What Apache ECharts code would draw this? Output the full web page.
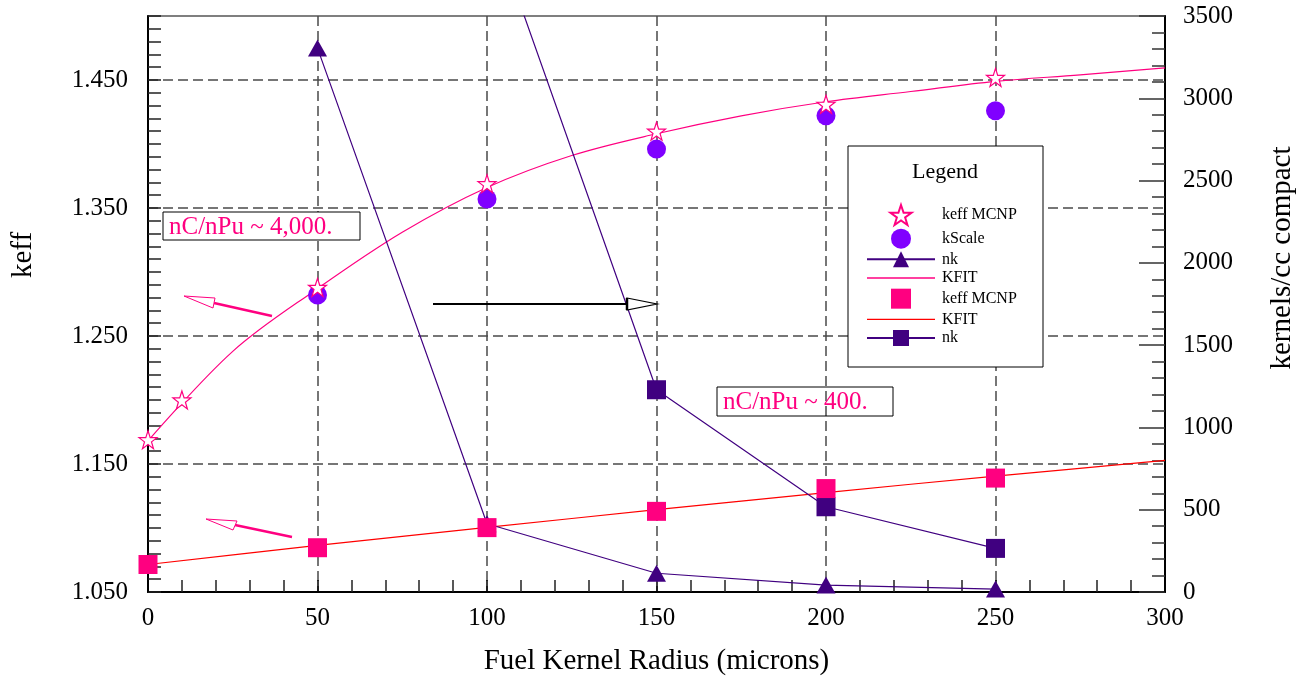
<!DOCTYPE html>
<html>
<head>
<meta charset="utf-8">
<script src="https://cdn.jsdelivr.net/npm/echarts@6/dist/echarts.min.js"></script>
<style>
html,body{margin:0;padding:0;background:#fff;}
#chart{width:1298px;height:681px;}
</style>
</head>
<body>
<div id="chart"></div>
<script>
// ---- data ----
const xTicks = [0, 50, 100, 150, 200, 250, 300];
const starX = [0, 10, 50, 100, 150, 200, 250];
const starKeff = [1.169, 1.200, 1.288, 1.369, 1.410, 1.431, 1.452];
const kScaleX = [50, 100, 150, 200, 250];
const kScaleVal = [1.282, 1.357, 1.396, 1.422, 1.426];
const nkTriX = [50, 100, 150, 200, 250];
const nkTriVal = [3305, 415, 114, 42, 18];
const kfitPinkX = [0, 25, 50, 75, 100, 125, 150, 175, 200, 225, 250, 275, 300];
const kfitPinkVal = [1.168, 1.238, 1.287, 1.331, 1.366, 1.391, 1.408, 1.422, 1.433, 1.441, 1.449, 1.454, 1.4595];
const sqX = [0, 50, 100, 150, 200, 250];
const sqKeff = [1.0715, 1.0846, 1.1003, 1.1130, 1.1308, 1.1390];
const kfitRedX = [0, 50, 100, 150, 200, 250, 300];
const kfitRedVal = [1.0715, 1.0864, 1.1005, 1.1143, 1.1277, 1.1405, 1.1528];
const nkSqX = [100, 150, 200, 250];
const nkSqVal = [4140, 1229, 518, 265];
const legendNames = ['keff MCNP', 'kScale', 'nk', 'KFIT', 'keff MCNP ', 'KFIT ', 'nk '];

const zip = (xs, ys) => xs.map((x, i) => [x, ys[i]]);

const FONT = 'Liberation Serif';
const PINK = '#FF0080';
const PURPLE = '#8000FF';
const DPURPLE = '#400080';
const RED = '#FF0000';
const STAR = 'path://M50,0 L61.8,35.1 L98.1,35.1 L68.8,56.7 L79.4,91 L50,70 L20.6,91 L31.2,56.7 L1.9,35.1 L38.2,35.1 Z';
const SQUARE = 'path://M0,0 H10 V10 H0 Z';
const THINLINE = 'path://M0,0 H68 V1.4 H0 Z';

const chart = echarts.init(document.getElementById('chart'), null, {renderer: 'canvas'});

const dash = {color: '#4a4a4a', width: 1.5, type: [10, 5]};

const option = {
  animation: false,
  backgroundColor: '#fff',
  grid: {left: 148, right: 133, top: 16, bottom: 84, show: true, borderColor: '#555', borderWidth: 1.5, backgroundColor: 'transparent'},
  xAxis: {
    type: 'value', min: 0, max: 300, interval: 50,
    name: 'Fuel Kernel Radius (microns)', nameLocation: 'middle', nameGap: 55,
    nameTextStyle: {fontFamily: FONT, fontSize: 29, color: '#000'},
    axisLine: {lineStyle: {color: '#000', width: 2}},
    axisTick: {inside: true, length: 12, lineStyle: {color: '#000', width: 1.5}},
    minorTick: {show: true, splitNumber: 5, length: 12, lineStyle: {color: '#222', width: 1.5}},
    axisLabel: {fontFamily: FONT, fontSize: 25, color: '#000', margin: 14},
    splitLine: {show: true, showMinLine: false, showMaxLine: false, lineStyle: dash}
  },
  yAxis: [
    {
      type: 'value', position: 'left', min: 1.05, max: 1.5, interval: 0.1,
      axisLine: {show: true, lineStyle: {color: '#000', width: 2}},
      axisTick: {show: false},
      axisLabel: {fontFamily: FONT, fontSize: 25, color: '#000', margin: 20, showMaxLabel: false,
        formatter: v => v.toFixed(3)},
      splitLine: {show: true, showMinLine: false, showMaxLine: false, lineStyle: dash}
    },
    {
      type: 'value', position: 'right', min: 0, max: 3500, interval: 500,
      axisLine: {show: true, lineStyle: {color: '#000', width: 2}},
      axisTick: {show: true, inside: true, length: 26, lineStyle: {color: '#333', width: 1.5}},
      minorTick: {show: true, splitNumber: 5, length: 13, lineStyle: {color: '#333', width: 1.5}},
      axisLabel: {fontFamily: FONT, fontSize: 25, color: '#000', margin: 18, formatter: v => String(Math.round(v))},
      splitLine: {show: false}
    },
    {
      type: 'value', position: 'left', min: 1.05, max: 1.5, interval: 0.01,
      axisLine: {show: false},
      axisTick: {show: true, inside: true, length: 13, lineStyle: {color: '#222', width: 1.5}},
      axisLabel: {show: false},
      splitLine: {show: false}
    }
  ],
  legend: {
    orient: 'vertical', left: 861, top: 199,
    itemWidth: 68, itemHeight: 20, itemGap: 2.67,
    textStyle: {fontFamily: FONT, fontSize: 16, color: '#000', padding: [0, 0, 0, 2]},
    selectedMode: false,
    data: [
      {name: 'keff MCNP'},
      {name: 'kScale'},
      {name: 'nk'},
      {name: 'KFIT', icon: THINLINE},
      {name: 'keff MCNP ', icon: SQUARE},
      {name: 'KFIT ', icon: THINLINE},
      {name: 'nk '}
    ]
  },
  series: [
    {
      name: 'KFIT', type: 'line', yAxisIndex: 0, data: zip(kfitPinkX, kfitPinkVal),
      smooth: 0.35, symbol: 'none', color: PINK, lineStyle: {color: PINK, width: 1.2}, z: 2
    },
    {
      name: 'KFIT ', type: 'line', yAxisIndex: 0, data: zip(kfitRedX, kfitRedVal),
      smooth: 0.3, symbol: 'none', color: RED, lineStyle: {color: RED, width: 1.2}, z: 2
    },
    {
      name: 'nk', type: 'line', yAxisIndex: 1, data: zip(nkTriX, nkTriVal),
      symbol: 'triangle', symbolSize: [19, 17], color: DPURPLE,
      lineStyle: {color: DPURPLE, width: 1.2}, itemStyle: {color: DPURPLE, opacity: 1}, z: 3
    },
    {
      name: 'nk ', type: 'line', yAxisIndex: 1, data: zip(nkSqX, nkSqVal),
      symbol: 'rect', symbolSize: 19, color: DPURPLE, clip: true,
      lineStyle: {color: DPURPLE, width: 1.2}, itemStyle: {color: DPURPLE, opacity: 1}, z: 3
    },
    {
      name: 'kScale', type: 'scatter', yAxisIndex: 0, data: zip(kScaleX, kScaleVal),
      symbol: 'circle', symbolSize: 19, color: PURPLE, itemStyle: {color: PURPLE, opacity: 1}, z: 4
    },
    {
      name: 'keff MCNP ', type: 'scatter', yAxisIndex: 0, data: zip(sqX, sqKeff),
      symbol: 'rect', symbolSize: 19, color: PINK, itemStyle: {color: PINK, opacity: 1}, z: 5
    },
    {
      name: 'keff MCNP', type: 'scatter', yAxisIndex: 0, data: zip(starX, starKeff),
      symbol: STAR, symbolSize: 18, color: '#fff',
      itemStyle: {color: '#fff', borderColor: PINK, borderWidth: 1.2, opacity: 1}, z: 6
    }
  ],
  graphic: [
    // legend frame + title
    {type: 'rect', z: 3, shape: {x: 848, y: 146, width: 195, height: 221},
      style: {fill: '#fff', stroke: '#000', lineWidth: 1}},
    {type: 'text', z: 5, x: 945, y: 172,
      style: {text: 'Legend', font: '22px "Liberation Serif"', fill: '#000', align: 'center', verticalAlign: 'middle'}},
    // axis titles
    {type: 'text', z: 5, x: 23, y: 255, rotation: Math.PI / 2,
      style: {text: 'keff', font: '29px "Liberation Serif"', fill: '#000', align: 'center', verticalAlign: 'middle'}},
    {type: 'text', z: 5, x: 1282, y: 258, rotation: Math.PI / 2,
      style: {text: 'kernels/cc compact', font: '29px "Liberation Serif"', fill: '#000', align: 'center', verticalAlign: 'middle'}},
    // annotation boxes
    {type: 'rect', z: 5, shape: {x: 163, y: 212, width: 197, height: 28},
      style: {fill: '#fff', stroke: '#000', lineWidth: 1}},
    {type: 'text', z: 6, x: 169, y: 227,
      style: {text: 'nC/nPu ~ 4,000.', font: '25px "Liberation Serif"', fill: PINK, align: 'left', verticalAlign: 'middle'}},
    {type: 'rect', z: 5, shape: {x: 717, y: 387, width: 176, height: 29},
      style: {fill: 'none', stroke: '#000', lineWidth: 1}},
    {type: 'text', z: 6, x: 723, y: 402,
      style: {text: 'nC/nPu ~ 400.', font: '25px "Liberation Serif"', fill: PINK, align: 'left', verticalAlign: 'middle'}},
    // arrows
    {type: 'line', z: 6, shape: {x1: 272, y1: 316, x2: 214, y2: 303}, style: {stroke: PINK, lineWidth: 2.5}},
    {type: 'polygon', z: 6, shape: {points: [[184, 296], [215, 298], [213, 308]]}, style: {fill: '#fff', stroke: PINK, lineWidth: 1}},
    {type: 'line', z: 6, shape: {x1: 292, y1: 537, x2: 235, y2: 525}, style: {stroke: PINK, lineWidth: 2.5}},
    {type: 'polygon', z: 6, shape: {points: [[206, 519], [237, 521], [233, 530]]}, style: {fill: '#fff', stroke: PINK, lineWidth: 1}},
    {type: 'line', z: 6, shape: {x1: 433, y1: 304, x2: 627, y2: 304}, style: {stroke: '#000', lineWidth: 2}},
    {type: 'polygon', z: 6, shape: {points: [[627, 298], [657, 304], [627, 310]]}, style: {fill: '#fff', stroke: '#000', lineWidth: 1.2}},
    {type: 'line', z: 6, shape: {x1: 627, y1: 298, x2: 627, y2: 310}, style: {stroke: '#000', lineWidth: 2.5}}
  ]
};
chart.setOption(option);
</script>
</body>
</html>
